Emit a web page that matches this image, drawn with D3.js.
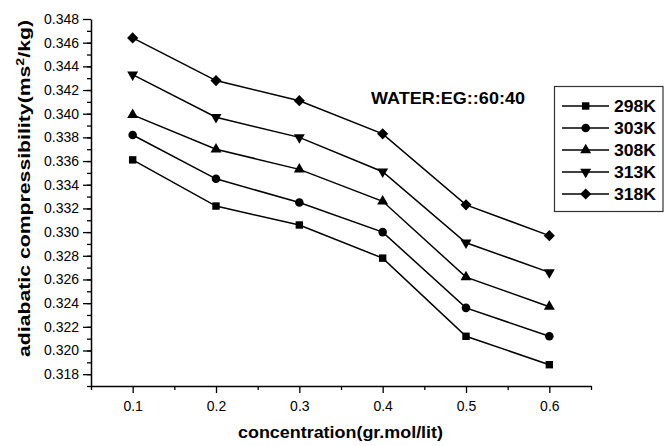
<!DOCTYPE html>
<html>
<head>
<meta charset="utf-8">
<script src="https://cdn.jsdelivr.net/npm/d3@7"></script>
<style>
  html, body { margin: 0; padding: 0; background: #fff; }
  svg { display: block; }
  text { font-family: "Liberation Sans", Arial, sans-serif; fill: #000; }
</style>
</head>
<body>
<svg id="chart" width="664" height="446"></svg>
<script>
// ---- data ----
const concentration = [0.1, 0.2, 0.3, 0.4, 0.5, 0.6];
const k298 = [0.3361, 0.3322, 0.3306, 0.3278, 0.3212, 0.3188];
const k303 = [0.3382, 0.3345, 0.3325, 0.3300, 0.3236, 0.3212];
const k308 = [0.3399, 0.3370, 0.3353, 0.3326, 0.3262, 0.3237];
const k313 = [0.3433, 0.3397, 0.3380, 0.3351, 0.3291, 0.3266];
const k318 = [0.3464, 0.3428, 0.3411, 0.3383, 0.3323, 0.3297];
const seriesNames = ["298K", "303K", "308K", "313K", "318K"];
const seriesValues = [k298, k303, k308, k313, k318];
const xTicks = [0.1, 0.2, 0.3, 0.4, 0.5, 0.6];
const xMinorTicks = [0.05, 0.15, 0.25, 0.35, 0.45, 0.55, 0.65];
const yTicks = [0.318, 0.320, 0.322, 0.324, 0.326, 0.328, 0.330, 0.332, 0.334, 0.336, 0.338, 0.340, 0.342, 0.344, 0.346, 0.348];
const yMinorTicks = d3.range(0, 31).map(i => +(0.317 + i * 0.001).toFixed(3));
const xTitle = "concentration(gr.mol/lit)";
const annotation = "WATER:EG::60:40";

const svg = d3.select("#chart");
const x = d3.scaleLinear().domain([0.05, 0.65]).range([91, 591]);
const y = d3.scaleLinear().domain([0.317, 0.348]).range([386, 19]);

// minor ticks
svg.append("g").attr("transform", "translate(91,0)")
  .call(d3.axisLeft(y).tickValues(yMinorTicks).tickSize(4).tickFormat(""))
  .call(g => g.select(".domain").remove())
  .selectAll("line").attr("stroke", "#000").attr("stroke-width", 1.3);
svg.append("g").attr("transform", "translate(0,386)")
  .call(d3.axisBottom(x).tickValues(xMinorTicks).tickSize(4).tickFormat(""))
  .call(g => g.select(".domain").remove())
  .selectAll("line").attr("stroke", "#000").attr("stroke-width", 1.3);

// major axes
const yAxis = svg.append("g").attr("transform", "translate(91,0)")
  .call(d3.axisLeft(y).tickValues(yTicks).tickSize(8).tickSizeOuter(0).tickPadding(4).tickFormat(d3.format(".3f")));
const xAxis = svg.append("g").attr("transform", "translate(0,386)")
  .call(d3.axisBottom(x).tickValues(xTicks).tickSize(7).tickSizeOuter(0).tickPadding(8).tickFormat(d3.format(".1f")));
[yAxis, xAxis].forEach(a => {
  a.select(".domain").attr("stroke", "#000").attr("stroke-width", 1.5);
  a.selectAll(".tick line").attr("stroke", "#000").attr("stroke-width", 1.3);
  a.selectAll(".tick text").attr("font-size", 14).attr("fill", "#111")
    .style("font-family", '"Liberation Sans", Arial, sans-serif');
});

// series
const symbols = [d3.symbolSquare, d3.symbolCircle, d3.symbolTriangle, "down", d3.symbolDiamond];
const sizes = [55, 58, 52, 52, 62];
function symbolPath(i) {
  const s = symbols[i];
  if (s === "down") return d3.symbol().type(d3.symbolTriangle).size(sizes[i])();
  if (s === d3.symbolDiamond) return d3.symbol().type(d3.symbolSquare).size(sizes[i])();
  return d3.symbol().type(s).size(sizes[i])();
}
function symbolRot(i) {
  if (symbols[i] === "down") return " rotate(180)";
  if (symbols[i] === d3.symbolDiamond) return " rotate(45)";
  return "";
}
const line = d3.line().x((d, i) => x(concentration[i])).y(d => y(d));
seriesValues.forEach((vals, si) => {
  svg.append("path").datum(vals).attr("d", line)
    .attr("fill", "none").attr("stroke", "#000").attr("stroke-width", 1.5);
  svg.append("g").selectAll("path").data(vals).join("path")
    .attr("d", symbolPath(si))
    .attr("transform", (d, i) => `translate(${x(concentration[i])},${y(d)})` + symbolRot(si))
    .attr("fill", "#000");
});

// annotation
svg.append("text").attr("x", 371).attr("y", 104).attr("font-size", 17).attr("font-weight", "bold")
  .attr("textLength", 154).attr("lengthAdjust", "spacingAndGlyphs").text(annotation);

// legend
const lg = svg.append("g");
lg.append("rect").attr("x", 554.5).attr("y", 86.5).attr("width", 108.5).attr("height", 125)
  .attr("fill", "#fff").attr("stroke", "#333").attr("stroke-width", 1.2);
seriesNames.forEach((name, i) => {
  const cy = 106 + i * 22;
  lg.append("line").attr("x1", 562).attr("x2", 609).attr("y1", cy).attr("y2", cy)
    .attr("stroke", "#000").attr("stroke-width", 1.5);
  lg.append("path").attr("d", symbolPath(i))
    .attr("transform", `translate(585.7,${cy})` + symbolRot(i)).attr("fill", "#000");
  lg.append("text").attr("x", 614).attr("y", cy + 6).attr("font-size", 16.5).attr("font-weight", "bold")
    .attr("textLength", 42).attr("lengthAdjust", "spacingAndGlyphs").text(name);
});

// axis titles
svg.append("text").attr("x", 340.5).attr("y", 438).attr("text-anchor", "middle")
  .attr("font-size", 16.5).attr("font-weight", "bold")
  .attr("textLength", 205).attr("lengthAdjust", "spacingAndGlyphs").text(xTitle);
const yt = svg.append("text").attr("transform", "translate(30,188.5) rotate(-90)")
  .attr("text-anchor", "middle").attr("font-size", 16.5).attr("font-weight", "bold")
  .attr("textLength", 337).attr("lengthAdjust", "spacingAndGlyphs");
yt.append("tspan").text("adiabatic compressibility(ms");
yt.append("tspan").attr("dy", -6).attr("font-size", 11).text("2");
yt.append("tspan").attr("dy", 6).text("/kg)");
</script>
</body>
</html>
